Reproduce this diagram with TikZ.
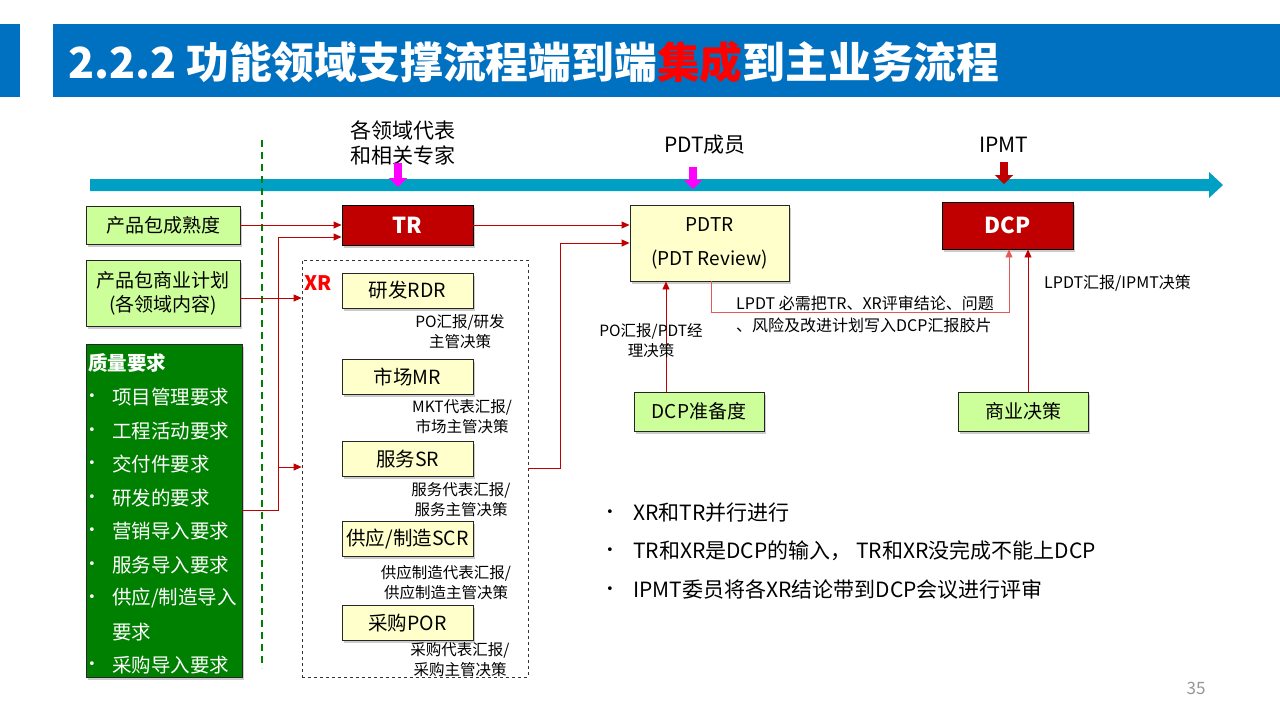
\documentclass[tikz,border=0pt]{standalone}
\usepackage{fontspec}
\setmainfont{Noto Sans CJK SC}
\newfontfamily\dejavu{DejaVu Sans}
\usetikzlibrary{arrows.meta,shadows}
\definecolor{titleblue}{RGB}{0,112,192}
\definecolor{barteal}{RGB}{0,160,196}
\definecolor{cred}{RGB}{192,0,0}
\definecolor{lred}{RGB}{228,90,90}
\definecolor{lgreen}{RGB}{204,255,153}
\definecolor{dgreen}{RGB}{0,128,0}
\definecolor{lyellow}{RGB}{255,255,204}
\definecolor{mag}{RGB}{255,0,255}
\definecolor{pgray}{RGB}{150,150,150}
\tikzset{
  shadowed/.style={drop shadow={shadow xshift=2pt,shadow yshift=-2.5pt,fill=black!40,opacity=0.5}},
  gbox/.style={shadowed, draw=black!85, line width=0.9pt, fill=lgreen, font=\fontsize{19}{24}\selectfont, align=center, inner sep=0pt},
  ybox/.style={shadowed, draw=black!85, line width=0.9pt, fill=lyellow, font=\fontsize{19.5}{24}\selectfont, inner sep=0pt, minimum width=131pt, minimum height=35pt},
  rbox/.style={shadowed, draw=black, line width=0.9pt, fill=cred, text=white, font=\fontsize{22}{26}\selectfont\bfseries, inner sep=0pt},
  conn/.style={draw=cred, line width=0.9pt, -{Triangle[length=8pt,width=7pt]}},
  lab/.style={font=\fontsize{15.5}{20}\selectfont, align=center, inner sep=0pt},
  toplab/.style={font=\fontsize{21}{25}\selectfont, align=center, inner sep=0pt},
  qtext/.style={text=white, font=\fontsize{19.5}{24}\selectfont, anchor=west, inner sep=0pt},
  qdot/.style={text=white, font=\dejavu\fontsize{13}{16}\selectfont, anchor=west, inner sep=0pt},
  bul/.style={font=\fontsize{21}{25}\selectfont, anchor=west, inner sep=0pt},
  bdot/.style={font=\dejavu\fontsize{13}{16}\selectfont, anchor=west, inner sep=0pt},
  downarr/.style={line width=8pt, -{Triangle[length=9pt,width=18pt]}}
}
\begin{document}
\begin{tikzpicture}[x=1pt,y=-1pt]
\useasboundingbox (0,0) rectangle (1280,720);
% title
\fill[titleblue] (0,24) rectangle (20,97);
\fill[titleblue] (53,24) rectangle (1280,97);
\node[anchor=west, text=white, font=\fontsize{42.8}{48}\selectfont\bfseries, inner sep=0pt] (title) at (68,62) {2.2.2 功能领域支撑流程端到端{\color{red}集成}到主业务流程};
% timeline bar
\fill[barteal] (90,179) -- (1209,179) -- (1209,172) -- (1223,185) -- (1209,198) -- (1209,191) -- (90,191) -- cycle;
% dashed divider
\draw[dgreen, line width=1.8pt, dash pattern=on 7pt off 5pt] (262,140) -- (262,668);
% top labels
\node[toplab] (tl1) at (403,142.5) {各领域代表\\和相关专家};
\node[toplab] (tl2) at (705,145) {PDT成员};
\node[toplab] (tl3) at (1004,145) {IPMT};
\coordinate (a1s) at (398,163); \coordinate (a1e) at (398,187);
\coordinate (a2s) at (693,167); \coordinate (a2e) at (693,189);
\coordinate (a3s) at (1004,162); \coordinate (a3e) at (1004,184);
\draw[downarr, mag] (a1s) -- (a1e);
\draw[downarr, mag] (a2s) -- (a2e);
\draw[downarr, cred] (a3s) -- (a3e);
% left inputs
\node[gbox, minimum width=154pt, minimum height=38pt] (m1) at (163,225) {产品包成熟度};
\node[gbox, minimum width=154pt, minimum height=66pt] (m2) at (163,293) {产品包商业计划\\(各领域内容)};
\node[shadowed, draw=black!85, line width=0.9pt, fill=dgreen, minimum width=156pt, minimum height=333pt, inner sep=0pt] (q) at (164,510.5) {};
\node[qtext, font=\fontsize{19.5}{24}\selectfont\bfseries] (qt) at (88,363) {质量要求};
\foreach \yy/\txt [count=\i] in {397/项目管理要求, 431/工程活动要求, 464/交付件要求, 498/研发的要求, 531/营销导入要求, 565/服务导入要求, 665/采购导入要求}{
  \node[qdot] (qd\i) at (88,\yy) {•};
  \node[qtext] (qb\i) at (112,\yy) {\txt};
}
\node[qdot] (qd9) at (88,598) {•};
\node[qtext] (qb9) at (112,598) {供应/制造导入};
\node[qtext] (qc) at (112,632) {要求};
% TR and XR
\node[rbox, minimum width=131pt, minimum height=40pt] (tr) at (407.5,225) {TR};
\node[draw=black!80, dashed, line width=0.7pt, minimum width=226pt, minimum height=417pt, inner sep=0pt] (xr) at (415,468.5) {};
\node[font=\fontsize{20}{24}\selectfont\bfseries, text=red, anchor=west, inner sep=0pt] (xrl) at (304,283) {XR};
\node[ybox] (rdr) at (407.5,290.5) {研发RDR};
\node[ybox] (mr) at (407.5,376.5) {市场MR};
\node[ybox] (sr) at (407.5,459) {服务SR};
\node[ybox] (scr) at (407.5,539) {供应/制造SCR};
\node[ybox] (por) at (407.5,623) {采购POR};
\node[lab] (l1) at (460,332) {PO汇报/研发\\主管决策};
\node[lab] (l2) at (462,417) {MKT代表汇报/\\市场主管决策};
\node[lab] (l3) at (461,499.5) {服务代表汇报/\\服务主管决策};
\node[lab] (l4) at (446,583) {供应制造代表汇报/\\供应制造主管决策};
\node[lab] (l5) at (460,659.5) {采购代表汇报/\\采购主管决策};
% PDTR and DCP
\node[ybox, minimum width=159pt, minimum height=76pt, align=center, font=\fontsize{19}{34}\selectfont] (pdtr) at (709.5,243) {PDTR\\(PDT Review)};
\node[rbox, minimum width=131pt, minimum height=47pt] (dcp) at (1007.5,225.5) {DCP};
\node[gbox, minimum width=130pt, minimum height=39pt] (rd) at (699,411.5) {DCP准备度};
\node[gbox, minimum width=130pt, minimum height=39pt] (bd) at (1023,411.5) {商业决策};
% connectors
\draw[conn] (m1.east) -- (tr.west);
\coordinate (b1) at (278,510.5);
\coordinate (b2) at (278,467);
\draw[conn] (q.east) -- (b1) |- ([yshift=-12pt]tr.west);
\draw[conn] (b2) -- (b2 -| xr.west);
\draw[conn] ([yshift=-5pt]m2.east) -- ([yshift=-5pt]m2.east -| xr.west);
\draw[conn] (tr.east) -- (tr.east -| pdtr.west);
\coordinate (b3) at (560,468.5);
\draw[conn] (xr.east) -- (b3) |- (pdtr.west);
\coordinate (b4) at (711,312);
\coordinate (b5) at (1009,312);
\draw[conn, draw=lred] (pdtr.south -| b4) -- (b4) -- (b5) -- (b5 |- dcp.south);
\draw[conn] ([xshift=-33pt]rd.north) -- ([xshift=-33pt]rd.north |- pdtr.south);
\draw[conn] ([xshift=5pt]bd.north) -- ([xshift=5pt]bd.north |- dcp.south);
% connector labels
\node[lab] (l6) at (651,341) {PO汇报/PDT经\\理决策};
\node[lab, font=\fontsize{16}{22}\selectfont, align=left, anchor=west] (l7) at (736,314) {LPDT 必需把TR、XR评审结论、问题\\、风险及改进计划写入DCP汇报胶片};
\node[lab, font=\fontsize{16}{20}\selectfont, anchor=west] (l8) at (1044,283) {LPDT汇报/IPMT决策};
% bottom bullets
\node[bdot] (d1) at (606,513) {•};
\node[bul] (t1) at (633,513) {XR和TR并行进行};
\node[bdot] (d2) at (606,551) {•};
\node[bul] (t2) at (633,551) {TR和XR是DCP的输入， TR和XR没完成不能上DCP};
\node[bdot] (d3) at (606,590) {•};
\node[bul] (t3) at (633,590) {IPMT委员将各XR结论带到DCP会议进行评审};
% page number
\node[font=\fontsize{17}{20}\selectfont, text=pgray, inner sep=0pt] (pg) at (1196,688) {35};
\end{tikzpicture}
\end{document}
